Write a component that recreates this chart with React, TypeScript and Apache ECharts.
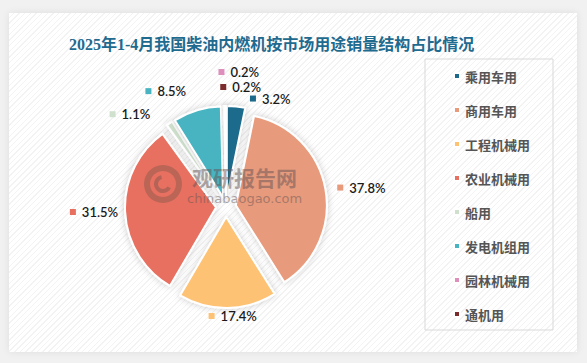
import React, { useEffect, useRef } from "react";
import * as echarts from "echarts";

const TITLE = "2025年1-4月我国柴油内燃机按市场用途销量结构占比情况";
const categories = ["乘用车用", "商用车用", "工程机械用", "农业机械用", "船用", "发电机组用", "园林机械用", "通机用"];
const values = [3.2, 37.8, 17.4, 31.5, 1.1, 8.5, 0.2, 0.2];
const colors = ["#1b6a8c", "#e89a7b", "#fec275", "#e87060", "#cfe1cd", "#49b4c1", "#de8fbc", "#7b2b2b"];
// per-slice label line lengths (label distance tuning)
const lineLen = [8, 7, 8, 2, 11, 20, 34, 19];
const lineLen2 = [8, 0, 0, 0, 8, 0, 0, 0];
const labelAlign: (string | null)[] = [null, null, "center", null, null, null, "left", "left"];

export default function App() {
  const ref = useRef<HTMLDivElement>(null);
  useEffect(() => {
    const chart = echarts.init(ref.current!, null, { renderer: "svg" });
    const rich: any = {
      g: { width: 6 },
      v: { fontSize: 13, color: "#1a1a1a", fontFamily: "Lato, 'Noto Sans', sans-serif", fontWeight: 600 },
    };
    colors.forEach((c, i) => {
      rich["m" + i] = { width: 6, height: 6, backgroundColor: c };
    });
    const wm = "rgba(100,85,85,0.5)";
    chart.setOption({
      animation: false,
      backgroundColor: "transparent",
      color: colors,
      title: {
        text: TITLE,
        left: 64,
        top: 31,
        textStyle: {
          fontSize: 16,
          fontWeight: "bold",
          color: "#1f6a8f",
          fontFamily: "'Liberation Serif', 'Noto Sans CJK SC', serif",
        },
      },
      legend: {
        orient: "vertical",
        left: 453,
        top: 69,
        padding: 0,
        icon: "rect",
        itemWidth: 6,
        itemHeight: 6,
        itemGap: 20,
        selectedMode: false,
        data: categories,
        textStyle: {
          fontSize: 13,
          fontWeight: "bold",
          color: "#555555",
          lineHeight: 14,
          fontFamily: "'Noto Sans CJK SC', sans-serif",
        },
      },
      graphic: [
        {
          type: "rect",
          shape: { x: 425, y: 59, width: 128, height: 271 },
          style: { fill: "transparent", stroke: "#d9d9d9", lineWidth: 1 },
          silent: true,
        },
        {
          type: "ring",
          z: 100,
          silent: true,
          shape: { cx: 163, cy: 184, r: 19, r0: 13 },
          style: { fill: "rgba(120,85,75,0.4)" },
        },
        {
          type: "arc",
          z: 100,
          silent: true,
          shape: { cx: 163, cy: 184, r: 7, startAngle: 0.5, endAngle: 4.5 },
          style: { stroke: "rgba(120,85,75,0.45)", lineWidth: 4, fill: "none" },
        },
        {
          type: "text",
          z: 100,
          silent: true,
          x: 192,
          y: 177,
          style: {
            text: "观研报告网",
            fontSize: 21,
            fontWeight: "bold",
            fill: wm,
            fontFamily: "'Noto Sans CJK SC', sans-serif",
            verticalAlign: "middle",
          },
        },
        {
          type: "text",
          z: 100,
          silent: true,
          x: 187,
          y: 198,
          style: {
            text: "chinabaogao.com",
            fontSize: 13,
            fill: wm,
            fontFamily: "'DejaVu Sans', sans-serif",
            verticalAlign: "middle",
          },
        },
      ],
      series: [
        {
          type: "pie",
          center: [226, 207],
          radius: 91,
          startAngle: 90,
          clockwise: true,
          selectedMode: "multiple",
          selectedOffset: 10,
          avoidLabelOverlap: false,
          itemStyle: {
            borderColor: "#ffffff",
            borderWidth: 2,
            shadowBlur: 7,
            shadowColor: "rgba(0,0,0,0.2)",
          },
          emphasis: { disabled: true },
          label: {
            show: true,
            position: "outside",
            formatter: (p: any) => `{m${p.dataIndex}|}{g|}{v|${p.value.toFixed(1)}%}`,
            rich,
          },
          labelLine: { show: false, length: 8, length2: 5 },
          labelLayout: (p: any) => {
            const a = labelAlign[p.dataIndex];
            return a ? { align: a } : {};
          },
          data: categories.map((name, i) => ({
            name,
            value: values[i],
            selected: true,
            labelLine: { show: false, length: lineLen[i], length2: lineLen2[i] },
          })),
        },
      ],
    });
    return () => chart.dispose();
  }, []);

  return (
    <div style={{ position: "fixed", left: 0, top: 0, width: 587, height: 363, background: "#f1f1f1", overflow: "hidden" }}>
      <div
        style={{
          position: "absolute",
          left: 9,
          top: 13,
          width: 568,
          height: 339,
          boxShadow: "0 0 8px rgba(0,0,0,0.08)",
          background: "repeating-linear-gradient(135deg, #ffffff 0px, #ffffff 3px, #f3f3f3 3px, #f3f3f3 4px)",
        }}
      />
      <div ref={ref} style={{ position: "absolute", left: 0, top: 0, width: 587, height: 363 }} />
    </div>
  );
}
